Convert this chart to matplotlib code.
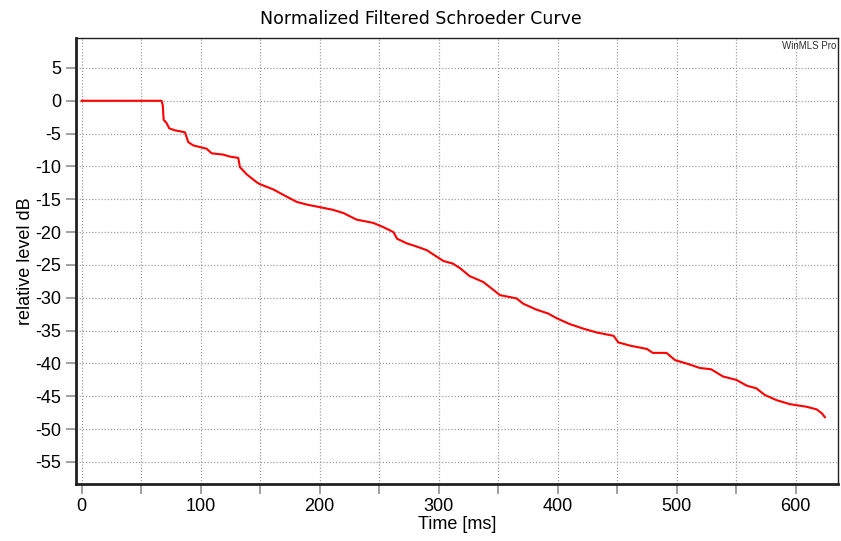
import matplotlib.pyplot as plt
from matplotlib.ticker import MultipleLocator

plt.rcParams['axes.unicode_minus'] = False

# Schroeder curve (time in ms, level in dB)
time_ms = [0, 67.2, 68.2, 68.9, 71.4, 73.6, 78.4, 86.8, 89.6, 93.8, 99.4, 105, 109.2, 119, 124.6,
           131.6, 133, 138.7, 147, 149.8, 161, 172.3, 180.7, 189, 200, 211, 220, 231, 245,
           253, 262, 265, 273, 281.5, 290, 298, 304, 312, 318, 326, 337.5, 346, 351.5,
           365.5, 371, 382, 392, 399, 410, 421.5, 433, 447, 451, 461, 475, 480, 491.5,
           498.6, 508, 519.6, 529, 539, 550, 559, 567, 574, 584, 595, 609, 617.6, 622, 624.6]
level_db = [0, 0, -0.7, -2.9, -3.4, -4.2, -4.5, -4.8, -6.3, -6.8, -7.05, -7.3, -8.0, -8.2, -8.5,
            -8.7, -10.1, -11.2, -12.4, -12.7, -13.5, -14.6, -15.4, -15.8, -16.2, -16.6, -17.1,
            -18.1, -18.6, -19.2, -20.0, -21.0, -21.7, -22.2, -22.75, -23.7, -24.4, -24.8, -25.5,
            -26.7, -27.6, -28.8, -29.6, -30.1, -30.9, -31.8, -32.4, -33.1, -34.0, -34.7, -35.3,
            -35.8, -36.8, -37.3, -37.8, -38.4, -38.4, -39.5, -40.0, -40.7, -40.9, -42.0, -42.5,
            -43.4, -43.8, -44.8, -45.6, -46.2, -46.6, -47.0, -47.6, -48.2]

label_font = ['Liberation Sans', 'DejaVu Sans']

fig = plt.figure(figsize=(8.41, 5.41), dpi=100)
ax = fig.add_axes([0.090, 0.105, 0.907, 0.824])

ax.plot(time_ms, level_db, color='#ff0000', linewidth=1.5)

ax.set_xlim(-5, 636)
ax.set_ylim(-58.4, 9.5)
ax.xaxis.set_major_locator(MultipleLocator(100))
ax.xaxis.set_minor_locator(MultipleLocator(50))
ax.yaxis.set_major_locator(MultipleLocator(5))

ax.grid(which='both', axis='x', color='#a0a0a0', linestyle=(0, (1, 1.5)), linewidth=0.9)
ax.grid(which='major', axis='y', color='#a0a0a0', linestyle=(0, (1, 1.5)), linewidth=0.9)

ax.tick_params(axis='both', which='both', direction='out', length=7, width=1.2,
               color='#909090', labelsize=13)
ax.tick_params(axis='x', which='major', pad=3)
for lbl in ax.get_xticklabels() + ax.get_yticklabels():
    lbl.set_family(label_font)

for side in ['left', 'bottom']:
    ax.spines[side].set_linewidth(2)
    ax.spines[side].set_color('#202020')
for side in ['top', 'right']:
    ax.spines[side].set_linewidth(1)
    ax.spines[side].set_color('#202020')

ax.set_xlabel('Time [ms]', fontsize=13, family=label_font, labelpad=1)
ax.set_ylabel('relative level dB', fontsize=13, family=label_font, labelpad=1)
fig.suptitle('Normalized Filtered Schroeder Curve', fontsize=12.5, y=0.982,
             family=['DejaVu Sans'])
ax.text(0.997, 0.995, 'WinMLS Pro', transform=ax.transAxes, ha='right', va='top',
        fontsize=7, color='#303030', family=label_font)

fig.savefig('out.png', dpi=100)
